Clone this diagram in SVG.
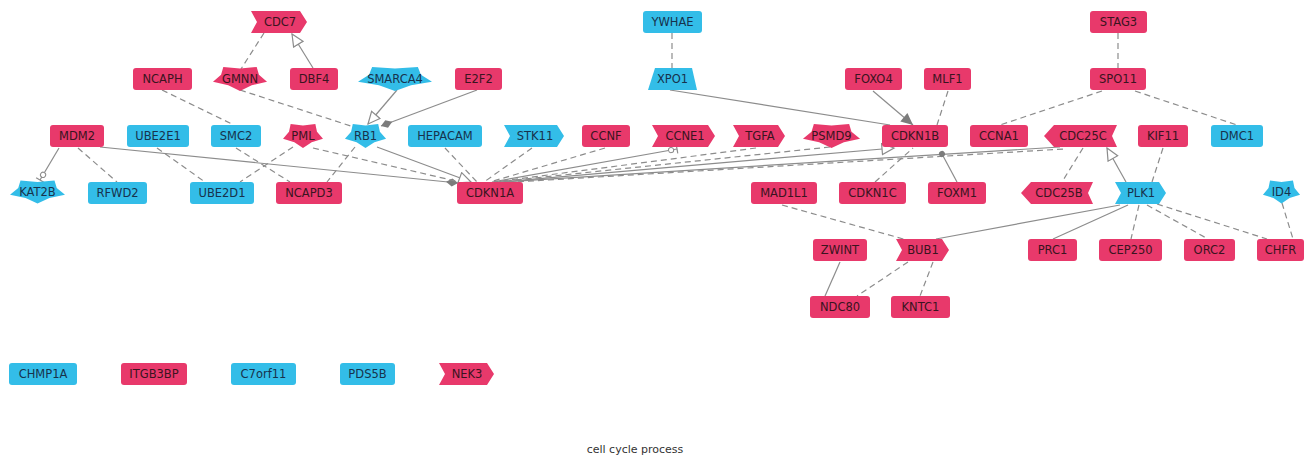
<svg xmlns="http://www.w3.org/2000/svg" xmlns:xlink="http://www.w3.org/1999/xlink" width="1305" height="457" viewBox="0 0 1305 457">
<style>
.r{fill:#E8396B}
.c{fill:#33BDE8}
text{font-family:"DejaVu Sans","Liberation Sans",sans-serif;font-size:11.5px;text-anchor:middle;dominant-baseline:central}
.tr{fill:#3a1420}
.tc{fill:#17324c}
.e{stroke:#8c8c8c;stroke-width:1.2;fill:none}
.d{stroke-dasharray:6 4}
.title{font-size:11px;fill:#333}
</style>
<defs>
<path id="star" d="M0,0.905 L-0.412,0.471 L-0.951,0.214 L-0.666,-0.312 L-0.588,-0.905 L0,-0.796 L0.588,-0.905 L0.666,-0.312 L0.951,0.214 L0.412,0.471 Z"/>
<marker id="openTri" markerWidth="15" markerHeight="13" refX="13" refY="6.5" orient="auto" markerUnits="userSpaceOnUse"><path d="M1,1 L13,6.5 L1,12 Z" fill="#fff" stroke="#8c8c8c" stroke-width="1.2"/></marker>
<marker id="diamond" markerWidth="15" markerHeight="10" refX="13" refY="5" orient="auto" markerUnits="userSpaceOnUse"><path d="M1,5 L7,1 L13,5 L7,9 Z" fill="#7c7c7c"/></marker>
<marker id="arrow" markerWidth="15" markerHeight="13" refX="13" refY="6.5" orient="auto" markerUnits="userSpaceOnUse"><path d="M1,1 L13,6.5 L1,12 Z" fill="#7c7c7c"/></marker>
<marker id="circTee" markerWidth="13" markerHeight="12" refX="11" refY="6" orient="auto" markerUnits="userSpaceOnUse"><circle cx="5" cy="6" r="2.6" fill="#fff" stroke="#8c8c8c" stroke-width="1"/><path d="M11,1.5 L11,10.5" stroke="#8c8c8c" stroke-width="1.2"/></marker>
<marker id="dot" markerWidth="8" markerHeight="8" refX="4" refY="4" orient="auto" markerUnits="userSpaceOnUse"><circle cx="4" cy="4" r="3" fill="#7c7c7c"/></marker>
</defs>

<g id="edges">
<line class="e d" x1="264" y1="33" x2="241" y2="69"/>
<line class="e" x1="313" y1="68" x2="292" y2="34" marker-end="url(#openTri)"/>
<line class="e d" x1="162" y1="90" x2="234" y2="125"/>
<line class="e d" x1="240" y1="90" x2="357" y2="128"/>
<line class="e" x1="397" y1="90" x2="368" y2="124" marker-end="url(#openTri)"/>
<line class="e" x1="477" y1="90" x2="381" y2="126" marker-end="url(#diamond)"/>
<line class="e d" x1="672" y1="33" x2="672" y2="68"/>
<line class="e" x1="670" y1="90" x2="890" y2="125"/>
<line class="e" x1="873" y1="91" x2="913" y2="125" marker-end="url(#arrow)"/>
<line class="e d" x1="948" y1="91" x2="937" y2="125"/>
<line class="e d" x1="1118" y1="33" x2="1118" y2="68"/>
<line class="e d" x1="1102" y1="91" x2="1000" y2="125"/>
<line class="e d" x1="1135" y1="91" x2="1237" y2="125"/>
<line class="e" x1="59" y1="148" x2="40" y2="180" marker-end="url(#circTee)"/>
<line class="e d" x1="78" y1="148" x2="117" y2="182"/>
<line class="e" x1="100" y1="147" x2="458" y2="183" marker-end="url(#diamond)"/>
<line class="e d" x1="157" y1="148" x2="205" y2="182"/>
<line class="e d" x1="236" y1="148" x2="290" y2="182"/>
<line class="e d" x1="293" y1="147" x2="240" y2="182"/>
<line class="e d" x1="313" y1="148" x2="460" y2="182"/>
<line class="e d" x1="355" y1="147" x2="327" y2="182"/>
<line class="e" x1="377" y1="147" x2="471" y2="182" marker-end="url(#openTri)"/>
<line class="e d" x1="445" y1="148" x2="477" y2="182"/>
<line class="e d" x1="532" y1="148" x2="484" y2="182"/>
<line class="e d" x1="605" y1="148" x2="490" y2="182"/>
<line class="e" x1="492" y1="182" x2="677" y2="149" marker-end="url(#circTee)"/>
<line class="e d" x1="756" y1="148" x2="494" y2="182"/>
<line class="e d" x1="830" y1="147" x2="496" y2="182"/>
<line class="e" x1="500" y1="182" x2="894" y2="148" marker-end="url(#openTri)"/>
<line class="e" x1="502" y1="182" x2="1060" y2="147"/>
<line class="e d" x1="498" y1="183" x2="1064" y2="149"/>
<line class="e" x1="957" y1="182" x2="942" y2="154" marker-end="url(#dot)"/>
<line class="e d" x1="875" y1="182" x2="913" y2="148"/>
<line class="e d" x1="1083" y1="148" x2="1062" y2="182"/>
<line class="e" x1="1126" y1="182" x2="1107" y2="148" marker-end="url(#openTri)"/>
<line class="e d" x1="1163" y1="148" x2="1152" y2="182"/>
<line class="e" x1="1120" y1="205" x2="936" y2="239"/>
<line class="e d" x1="782" y1="205" x2="907" y2="240"/>
<line class="e" x1="1128" y1="205" x2="1053" y2="239"/>
<line class="e d" x1="1139" y1="205" x2="1131" y2="239"/>
<line class="e d" x1="1147" y1="205" x2="1208" y2="239"/>
<line class="e d" x1="1157" y1="204" x2="1267" y2="239"/>
<line class="e d" x1="1282" y1="203" x2="1293" y2="239"/>
<line class="e" x1="840" y1="262" x2="825" y2="296"/>
<line class="e d" x1="908" y1="262" x2="857" y2="296"/>
<line class="e d" x1="933" y1="262" x2="920" y2="296"/>
</g>

<g id="n-CDC7"><polygon class="r" points="251,11 300,11 307,22 300,33 251,33 257,22"/><text class="tr" x="280" y="22">CDC7</text></g>
<g id="n-YWHAE"><rect class="c" x="643" y="11" width="59" height="22" rx="3"/><text class="tc" x="672.5" y="22">YWHAE</text></g>
<g id="n-STAG3"><rect class="r" x="1090" y="11" width="57" height="22" rx="3"/><text class="tr" x="1118.5" y="22">STAG3</text></g>

<g id="n-NCAPH"><rect class="r" x="133" y="68" width="59" height="22" rx="3"/><text class="tr" x="162.5" y="79">NCAPH</text></g>
<g id="n-GMNN"><use xlink:href="#star" class="r" transform="translate(240,79) scale(28.4,13.3)"/><text class="tr" x="240" y="79">GMNN</text></g>
<g id="n-DBF4"><rect class="r" x="290" y="68" width="48" height="22" rx="3"/><text class="tr" x="314" y="79">DBF4</text></g>
<g id="n-SMARCA4"><use xlink:href="#star" class="c" transform="translate(395,79) scale(38.9,13.3)"/><text class="tc" x="395" y="79">SMARCA4</text></g>
<g id="n-E2F2"><rect class="r" x="455" y="68" width="47" height="22" rx="3"/><text class="tr" x="478.5" y="79">E2F2</text></g>
<g id="n-XPO1"><polygon class="c" points="655,68 692,68 697,90 648,90"/><text class="tc" x="672.5" y="79">XPO1</text></g>
<g id="n-FOXO4"><rect class="r" x="845" y="68" width="57" height="22" rx="3"/><text class="tr" x="873.5" y="79">FOXO4</text></g>
<g id="n-MLF1"><rect class="r" x="924" y="68" width="47" height="22" rx="3"/><text class="tr" x="947.5" y="79">MLF1</text></g>
<g id="n-SPO11"><rect class="r" x="1090" y="68" width="56" height="22" rx="3"/><text class="tr" x="1118" y="79">SPO11</text></g>

<g id="n-MDM2"><rect class="r" x="50" y="125" width="54" height="22" rx="3"/><text class="tr" x="77" y="136">MDM2</text></g>
<g id="n-UBE2E1"><rect class="c" x="127" y="125" width="62" height="22" rx="3"/><text class="tc" x="158" y="136">UBE2E1</text></g>
<g id="n-SMC2"><rect class="c" x="211" y="125" width="50" height="22" rx="3"/><text class="tc" x="236" y="136">SMC2</text></g>
<g id="n-PML"><use xlink:href="#star" class="r" transform="translate(303,136) scale(21,13.3)"/><text class="tr" x="303" y="136">PML</text></g>
<g id="n-RB1"><use xlink:href="#star" class="c" transform="translate(365.5,136) scale(21.6,13.3)"/><text class="tc" x="365.5" y="136">RB1</text></g>
<g id="n-HEPACAM"><rect class="c" x="408" y="125" width="74" height="22" rx="3"/><text class="tc" x="445" y="136">HEPACAM</text></g>
<g id="n-STK11"><polygon class="c" points="504,125 557,125 564,136 557,147 504,147 510,136"/><text class="tc" x="535" y="136">STK11</text></g>
<g id="n-CCNF"><rect class="r" x="582" y="125" width="48" height="22" rx="3"/><text class="tr" x="606" y="136">CCNF</text></g>
<g id="n-CCNE1"><polygon class="r" points="652,125 708,125 715,136 708,147 652,147 658,136"/><text class="tr" x="685" y="136">CCNE1</text></g>
<g id="n-TGFA"><polygon class="r" points="733,125 778,125 785,136 778,147 733,147 739,136"/><text class="tr" x="760" y="136">TGFA</text></g>
<g id="n-PSMD9"><use xlink:href="#star" class="r" transform="translate(831.5,136) scale(30,13.3)"/><text class="tr" x="831.5" y="136">PSMD9</text></g>
<g id="n-CDKN1B"><rect class="r" x="882" y="125" width="66" height="22" rx="3"/><text class="tr" x="915" y="136">CDKN1B</text></g>
<g id="n-CCNA1"><rect class="r" x="970" y="125" width="58" height="22" rx="3"/><text class="tr" x="999" y="136">CCNA1</text></g>
<g id="n-CDC25C"><polygon class="r" points="1054,125 1117,125 1112,136 1117,147 1054,147 1044,136"/><text class="tr" x="1083" y="136">CDC25C</text></g>
<g id="n-KIF11"><rect class="r" x="1138" y="125" width="50" height="22" rx="3"/><text class="tr" x="1163" y="136">KIF11</text></g>
<g id="n-DMC1"><rect class="c" x="1211" y="125" width="52" height="22" rx="3"/><text class="tc" x="1237" y="136">DMC1</text></g>

<g id="n-KAT2B"><use xlink:href="#star" class="c" transform="translate(37.5,192) scale(28.9,12.7)"/><text class="tc" x="37.5" y="192">KAT2B</text></g>
<g id="n-RFWD2"><rect class="c" x="88" y="182" width="59" height="22" rx="3"/><text class="tc" x="117.5" y="193">RFWD2</text></g>
<g id="n-UBE2D1"><rect class="c" x="190" y="182" width="64" height="22" rx="3"/><text class="tc" x="222" y="193">UBE2D1</text></g>
<g id="n-NCAPD3"><rect class="r" x="276" y="182" width="66" height="22" rx="3"/><text class="tr" x="309" y="193">NCAPD3</text></g>
<g id="n-CDKN1A"><rect class="r" x="457" y="182" width="66" height="22" rx="3"/><text class="tr" x="490" y="193">CDKN1A</text></g>
<g id="n-MAD1L1"><rect class="r" x="751" y="182" width="66" height="22" rx="3"/><text class="tr" x="784" y="193">MAD1L1</text></g>
<g id="n-CDKN1C"><rect class="r" x="839" y="182" width="67" height="22" rx="3"/><text class="tr" x="872.5" y="193">CDKN1C</text></g>
<g id="n-FOXM1"><rect class="r" x="928" y="182" width="58" height="22" rx="3"/><text class="tr" x="957" y="193">FOXM1</text></g>
<g id="n-CDC25B"><polygon class="r" points="1031,182 1093,182 1088,193 1093,204 1031,204 1021,193"/><text class="tr" x="1059" y="193">CDC25B</text></g>
<g id="n-PLK1"><polygon class="c" points="1115,182 1159,182 1166,193 1159,204 1115,204 1121,193"/><text class="tc" x="1141" y="193">PLK1</text></g>
<g id="n-ID4"><use xlink:href="#star" class="c" transform="translate(1281.5,192) scale(19.5,12.7)"/><text class="tc" x="1281.5" y="192">ID4</text></g>

<g id="n-ZWINT"><rect class="r" x="813" y="239" width="54" height="22" rx="3"/><text class="tr" x="840" y="250">ZWINT</text></g>
<g id="n-BUB1"><polygon class="r" points="896,239 942,239 949,250 942,261 896,261 902,250"/><text class="tr" x="923" y="250">BUB1</text></g>
<g id="n-PRC1"><rect class="r" x="1028" y="239" width="49" height="22" rx="3"/><text class="tr" x="1052.5" y="250">PRC1</text></g>
<g id="n-CEP250"><rect class="r" x="1099" y="239" width="63" height="22" rx="3"/><text class="tr" x="1130.5" y="250">CEP250</text></g>
<g id="n-ORC2"><rect class="r" x="1184" y="239" width="51" height="22" rx="3"/><text class="tr" x="1209.5" y="250">ORC2</text></g>
<g id="n-CHFR"><rect class="r" x="1257" y="239" width="47" height="22" rx="3"/><text class="tr" x="1280.5" y="250">CHFR</text></g>

<g id="n-NDC80"><rect class="r" x="810" y="296" width="60" height="22" rx="3"/><text class="tr" x="840" y="307">NDC80</text></g>
<g id="n-KNTC1"><rect class="r" x="891" y="296" width="59" height="22" rx="3"/><text class="tr" x="920.5" y="307">KNTC1</text></g>

<g id="n-CHMP1A"><rect class="c" x="9" y="363" width="68" height="22" rx="3"/><text class="tc" x="43" y="374">CHMP1A</text></g>
<g id="n-ITGB3BP"><rect class="r" x="121" y="363" width="66" height="22" rx="3"/><text class="tr" x="154" y="374">ITGB3BP</text></g>
<g id="n-C7orf11"><rect class="c" x="231" y="363" width="65" height="22" rx="3"/><text class="tc" x="263.5" y="374">C7orf11</text></g>
<g id="n-PDS5B"><rect class="c" x="340" y="363" width="55" height="22" rx="3"/><text class="tc" x="367.5" y="374">PDS5B</text></g>
<g id="n-NEK3"><polygon class="r" points="439,363 487,363 494,374 487,385 439,385 445,374"/><text class="tr" x="467" y="374">NEK3</text></g>

<text class="title" x="635" y="449">cell cycle process</text>
</svg>
